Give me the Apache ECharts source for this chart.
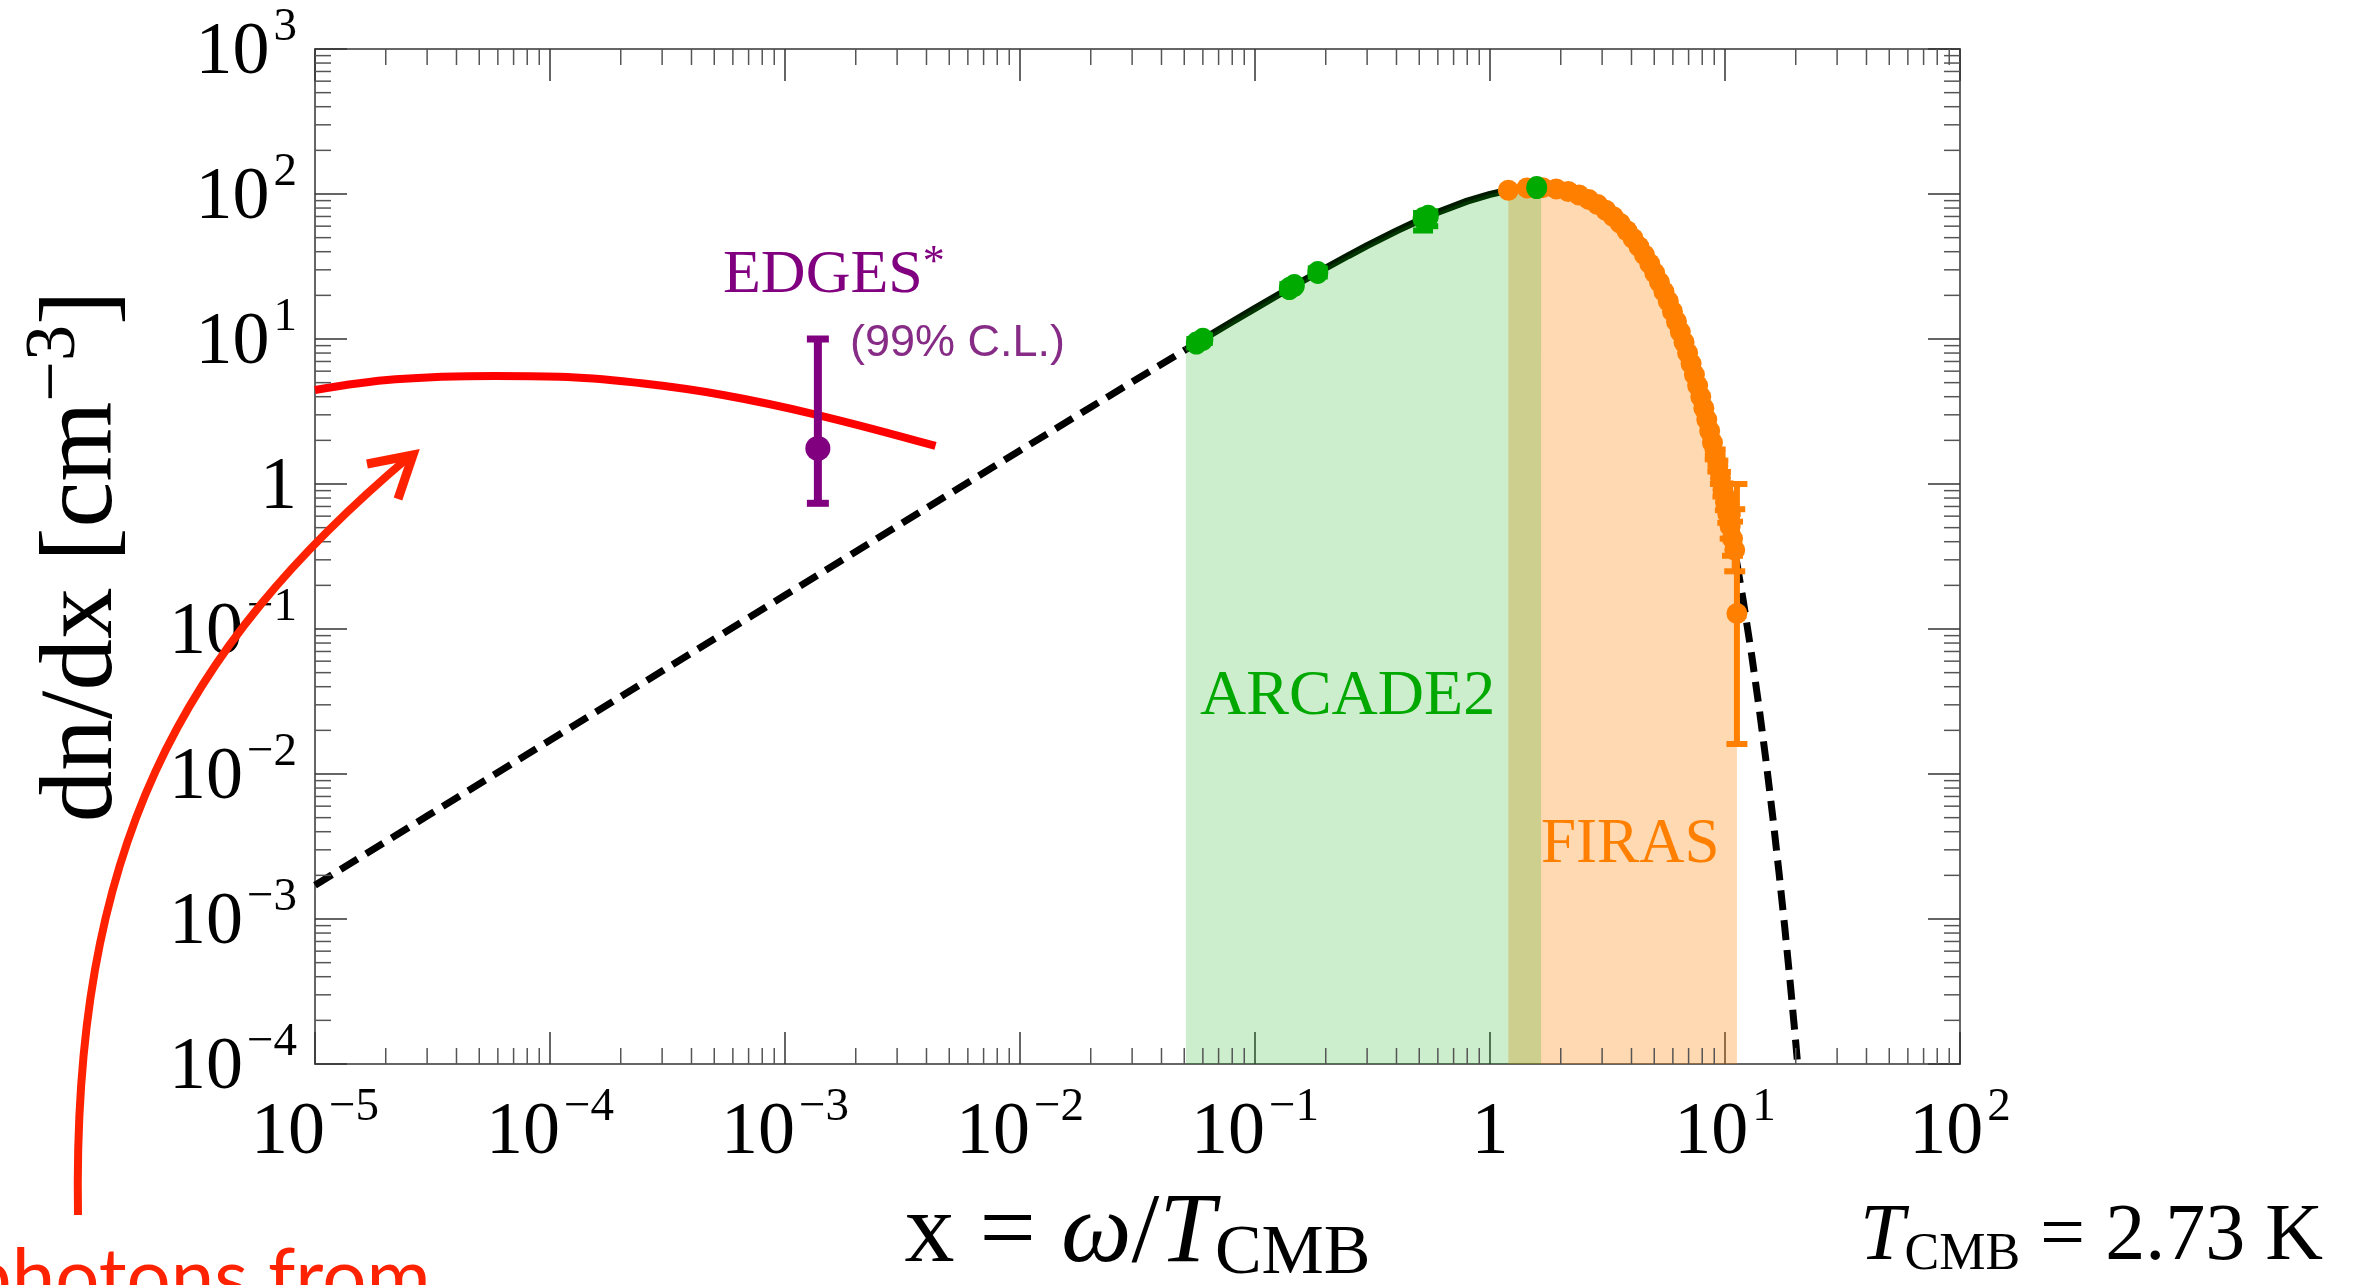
<!DOCTYPE html>
<html><head><meta charset="utf-8">
<script src="https://cdn.jsdelivr.net/npm/echarts@6/dist/echarts.min.js"></script>
<style>html,body{margin:0;padding:0;background:#fff;overflow:hidden}#c{width:2353px;height:1285px}</style>
</head><body><div id="c"></div>
<script>
// ---------- data ----------
const xTickDecades = [-5, -4, -3, -2, -1, 0, 1, 2];
const yTickDecades = [-4, -3, -2, -1, 0, 1, 2, 3];

// blackbody curve, solid part (x, dn/dx)
const curveX = [0.0508, 0.06, 0.08, 0.1, 0.13, 0.16, 0.2, 0.25, 0.3, 0.4, 0.5, 0.6, 0.8, 1.0, 1.197, 1.4, 1.6, 1.65, 1.8, 2.0, 2.3, 2.6, 3.0, 3.5, 4.0, 4.5, 5.0, 5.5, 6.0, 6.5, 7.0, 7.5, 8.0, 8.5, 9.0, 9.5, 10.0, 10.5, 11.0, 11.24];
const curveY = [8.47, 9.96, 13.14, 16.26, 20.82, 25.23, 30.89, 37.63, 43.99, 55.63, 65.90, 74.88, 89.30, 99.52, 106.1, 109.7, 110.74, 110.66, 109.72, 107.06, 100.8, 92.75, 80.64, 65.23, 51.05, 38.90, 29.00, 21.23, 15.30, 10.88, 7.648, 5.323, 3.673, 2.514, 1.710, 1.155, 0.7764, 0.5191, 0.3456, 0.2838];
// dashed extrapolations
const dashLeftX = [1e-5, 3e-5, 1e-4, 3e-4, 1e-3, 3e-3, 0.01, 0.02, 0.03, 0.0508];
const dashLeftY = [0.00171, 0.00513, 0.0171, 0.0513, 0.1709, 0.5122, 1.702, 3.386, 5.054, 8.47];
const dashRightX = [11.24, 12, 13, 14, 15, 16, 17, 18, 19, 20, 21];
const dashRightY = [0.2838, 0.1513, 0.0653, 0.02787, 0.01177, 0.004926, 0.002046, 0.000844, 0.000346, 0.000141, 0.0000572];
// red curve
const redX = [1e-5, 2.2e-5, 5.8e-5, 1.1e-4, 2.45e-4, 5.45e-4, 1.38e-3, 4.37e-3];
const redY = [4.45, 5.27, 5.56, 5.50, 4.95, 4.11, 2.99, 1.83];
// ARCADE2 points
const arcadeX = [0.0563, 0.0600, 0.140, 0.147, 0.185, 0.519, 0.546, 1.58];
const arcadeY = [9.37, 9.96, 22.3, 23.4, 28.8, 67.7, 70.2, 110.7];
const arcadeErrX = [0.0563, 0.0600, 0.140, 0.185, 0.519, 0.546];
const arcadeErrLo = [8.8, 9.4, 20.8, 27.0, 56.0, 60.0];
const arcadeErrHi = [10.0, 10.6, 23.9, 30.7, 74.0, 76.0];
// FIRAS points
const firasX = [1.197, 1.436, 1.675, 1.914, 2.153, 2.392, 2.631, 2.870, 3.109, 3.348, 3.587, 3.826, 4.065, 4.304, 4.543, 4.782, 5.021, 5.260, 5.499, 5.738, 5.977, 6.216, 6.455, 6.694, 6.933, 7.172, 7.411, 7.650, 7.889, 8.128, 8.367, 8.606, 8.845, 9.084, 9.323, 9.562, 9.801, 10.04, 10.28, 10.52, 10.76, 11.00, 11.24];
const firasY = [106.1, 110.1, 110.6, 108.4, 104.1, 98.4, 91.8, 84.6, 77.2, 69.8, 62.7, 55.8, 49.3, 43.4, 38.0, 33.1, 28.6, 24.7, 21.2, 18.2, 15.5, 13.2, 11.2, 9.50, 8.02, 6.76, 5.68, 4.77, 3.99, 3.33, 2.78, 2.32, 1.93, 1.60, 1.33, 1.10, 0.91, 0.75, 0.62, 0.51, 0.42, 0.35, 0.128];
const firasErrX = [9.084, 9.323, 9.562, 9.801, 10.04, 10.28, 10.52, 10.76, 11.00, 11.24];
const firasErrLo = [1.48, 1.22, 1.0, 0.82, 0.66, 0.54, 0.42, 0.32, 0.25, 0.0161];
const firasErrHi = [1.73, 1.45, 1.21, 1.01, 0.85, 0.71, 0.62, 0.55, 0.67, 1.0];
// EDGES
const edgesX = [1.38e-3];
const edgesY = [1.76];
const edgesLo = [0.736];
const edgesHi = [10];
// shaded ranges
const arcadeRange = [0.0508, 1.65];
const firasRange = [1.197, 11.24];

// ---------- build ----------
const zip = (a, b) => a.map((v, i) => [v, b[i]]);
const zip3 = (a, b, c) => a.map((v, i) => [v, b[i], c[i]]);
const bandData = r => curveX.map((x, i) => [x, curveY[i]]).filter(p => p[0] >= r[0] - 1e-9 && p[0] <= r[1] + 1e-9);
const minorX = [], minorY = [];
xTickDecades.slice(0, -1).forEach(k => { for (let m = 2; m <= 9; m++) minorX.push([m * Math.pow(10, k), 1]); });
yTickDecades.slice(0, -1).forEach(k => { for (let m = 2; m <= 9; m++) minorY.push([1, m * Math.pow(10, k)]); });

const SERIF = 'Liberation Serif';
const tickRich = {
  b: { fontFamily: SERIF, fontSize: 74, lineHeight: 100, color: '#000' },
  s: { fontFamily: SERIF, fontSize: 47, lineHeight: 44, verticalAlign: 'top', color: '#000', padding: [0, 0, 0, 4] }
};
function powLabel(v) {
  const e = Math.round(Math.log10(v));
  if (e === 0) return '{b|1}';
  return '{b|10}{s|' + (e < 0 ? '\u2212' + (-e) : e) + '}';
}

function errItem(color, lw, capW, capLw) {
  return function (params, api) {
    const x = api.value(0), lo = api.value(1), hi = api.value(2);
    const p1 = api.coord([x, lo]), p2 = api.coord([x, hi]);
    const st = { stroke: color, lineWidth: lw };
    const cs = { stroke: color, lineWidth: capLw };
    return { type: 'group', children: [
      { type: 'line', shape: { x1: p1[0], y1: p1[1], x2: p2[0], y2: p2[1] }, style: st },
      { type: 'line', shape: { x1: p1[0] - capW / 2, y1: p1[1], x2: p1[0] + capW / 2, y2: p1[1] }, style: cs },
      { type: 'line', shape: { x1: p2[0] - capW / 2, y1: p2[1], x2: p2[0] + capW / 2, y2: p2[1] }, style: cs }
    ]};
  };
}
const MINOR_LEN = 16;
function minorXItem(params, api) {
  const c = params.coordSys;
  const x = api.coord([api.value(0), 1])[0];
  const st = { stroke: '#555', lineWidth: 1.5 };
  return { type: 'group', children: [
    { type: 'line', shape: { x1: x, y1: c.y + c.height, x2: x, y2: c.y + c.height - MINOR_LEN }, style: st },
    { type: 'line', shape: { x1: x, y1: c.y, x2: x, y2: c.y + MINOR_LEN }, style: st }
  ]};
}
function minorYItem(params, api) {
  const c = params.coordSys;
  const y = api.coord([1, api.value(1)])[1];
  const st = { stroke: '#555', lineWidth: 1.5 };
  return { type: 'group', children: [
    { type: 'line', shape: { x1: c.x, y1: y, x2: c.x + MINOR_LEN, y2: y }, style: st },
    { type: 'line', shape: { x1: c.x + c.width, y1: y, x2: c.x + c.width - MINOR_LEN, y2: y }, style: st }
  ]};
}

const axisLine = { show: true, onZero: false, lineStyle: { color: '#666', width: 2 } };
const majorTick = { show: true, inside: true, length: 32, lineStyle: { color: '#333', width: 1.5 } };

const chart = echarts.init(document.getElementById('c'), null, { renderer: 'canvas' });
chart.setOption({
  animation: false,
  backgroundColor: '#fff',
  grid: { left: 315, right: 393, top: 49, bottom: 221, containLabel: false, outerBoundsMode: 'none' },
  xAxis: [
    { type: 'log', min: 1e-5, max: 100, position: 'bottom', axisLine, axisTick: majorTick, splitLine: { show: false },
      axisLabel: { interval: 0, showMinLabel: true, showMaxLabel: true, margin: 20, formatter: powLabel, rich: tickRich },
      name: '{b|x = }{i|\u03C9}{b|/}{i|T}{s|CMB}', nameLocation: 'middle', nameGap: 116,
      nameTextStyle: { rich: {
        b: { fontFamily: SERIF, fontSize: 100, lineHeight: 110, color: '#000' },
        i: { fontFamily: SERIF, fontStyle: 'italic', fontSize: 100, lineHeight: 110, color: '#000' },
        s: { fontFamily: SERIF, fontSize: 70, lineHeight: 62, verticalAlign: 'bottom', color: '#000' }
      } } },
    { type: 'log', min: 1e-5, max: 100, position: 'top', axisLine, axisTick: majorTick, axisLabel: { show: false }, splitLine: { show: false } }
  ],
  yAxis: [
    { type: 'log', min: 1e-4, max: 1000, position: 'left', axisLine, axisTick: majorTick, splitLine: { show: false },
      axisLabel: { interval: 0, showMinLabel: true, showMaxLabel: true, margin: 18, padding: [10, 0, 0, 0], formatter: powLabel, rich: tickRich },
      name: '{b|dn/dx [cm}{s|\u22123}{b|]}', nameLocation: 'middle', nameGap: 166, nameRotate: 90,
      nameTextStyle: { rich: {
        b: { fontFamily: SERIF, fontSize: 103, lineHeight: 130, color: '#000' },
        s: { fontFamily: SERIF, fontSize: 72, lineHeight: 72, verticalAlign: 'top', color: '#000' }
      } } },
    { type: 'log', min: 1e-4, max: 1000, position: 'right', axisLine, axisTick: majorTick, axisLabel: { show: false }, splitLine: { show: false } }
  ],
  series: [
    { name: 'Blackbody', type: 'line', data: zip(curveX, curveY), showSymbol: false, symbol: 'none', z: 2,
      lineStyle: { color: '#001a00', width: 7 } },
    { name: 'FIRAS band', type: 'line', data: bandData(firasRange), symbol: 'none', z: 3,
      lineStyle: { width: 0, opacity: 0 }, areaStyle: { origin: 'start', opacity: 1, color: 'rgba(255,128,0,0.3)' } },
    { name: 'ARCADE2 band', type: 'line', data: bandData(arcadeRange), symbol: 'none', z: 4,
      lineStyle: { width: 0, opacity: 0 }, areaStyle: { origin: 'start', opacity: 1, color: 'rgba(0,170,0,0.2)' } },
    { name: 'Blackbody low', type: 'line', data: zip(dashLeftX, dashLeftY), symbol: 'none', z: 5,
      lineStyle: { color: '#000', width: 7, type: [20, 10] } },
    { name: 'Blackbody high', type: 'line', data: zip(dashRightX, dashRightY), symbol: 'none', z: 5,
      lineStyle: { color: '#000', width: 7, type: [20, 10] } },
    { name: 'Dark photons', type: 'line', data: zip(redX, redY), symbol: 'none', smooth: 0.4, z: 6,
      lineStyle: { color: '#ff0000', width: 8 } },
    { name: 'EDGES err', type: 'custom', renderItem: errItem('#800080', 8, 22, 7), z: 7,
      dimensions: ['x', 'lo', 'hi'], encode: { x: 0, y: [1, 2] }, data: zip3(edgesX, edgesLo, edgesHi) },
    { name: 'FIRAS err', type: 'custom', renderItem: errItem('#ff8000', 6, 21, 6), z: 7,
      dimensions: ['x', 'lo', 'hi'], encode: { x: 0, y: [1, 2] }, data: zip3(firasErrX, firasErrLo, firasErrHi) },
    { name: 'ARCADE2 err', type: 'custom', renderItem: errItem('#00aa00', 6, 20, 6), z: 9,
      dimensions: ['x', 'lo', 'hi'], encode: { x: 0, y: [1, 2] }, data: zip3(arcadeErrX, arcadeErrLo, arcadeErrHi) },
    { name: 'FIRAS', type: 'scatter', data: zip(firasX, firasY), symbol: 'circle', symbolSize: 21, z: 8,
      itemStyle: { color: '#ff8000', opacity: 1 } },
    { name: 'ARCADE2', type: 'scatter', data: zip(arcadeX, arcadeY), symbol: 'circle', symbolSize: [21, 23], z: 9,
      itemStyle: { color: '#00aa00', opacity: 1 } },
    { name: 'EDGES', type: 'scatter', data: zip(edgesX, edgesY), symbol: 'circle', symbolSize: 25, z: 9,
      itemStyle: { color: '#800080', opacity: 1 } },
    { name: 'minor x', type: 'custom', renderItem: minorXItem, data: minorX, z: 10, silent: true, clip: false },
    { name: 'minor y', type: 'custom', renderItem: minorYItem, data: minorY, z: 10, silent: true, clip: false }
  ],
  graphic: [
    { type: 'text', z: 20, style: { x: 723, y: 297 - 21, text: '{a|EDGES}{s|*}', verticalAlign: 'middle', rich: {
        a: { fontFamily: SERIF, fontSize: 62, lineHeight: 70, fill: '#800080' },
        s: { fontFamily: SERIF, fontSize: 44, lineHeight: 40, verticalAlign: 'top', fill: '#800080' } } } },
    { type: 'text', z: 20, style: { x: 850, y: 344, text: '(99% C.L.)', font: '45px "Liberation Sans"', fill: '#862b86', verticalAlign: 'middle' } },
    { type: 'text', z: 20, style: { x: 1200, y: 718 - 21, text: 'ARCADE2', font: '64px "Liberation Serif"', fill: '#00a800', verticalAlign: 'middle' } },
    { type: 'text', z: 20, style: { x: 1541, y: 866 - 21, text: 'FIRAS', font: '63px "Liberation Serif"', fill: '#ff8000', verticalAlign: 'middle' } },
    { type: 'text', z: 20, style: { x: 1860, y: 1265 - 27, text: '{i|T}{s|CMB}{n| = 2.73 K}', verticalAlign: 'middle', rich: {
        i: { fontFamily: SERIF, fontStyle: 'italic', fontSize: 80, lineHeight: 86, fill: '#000' },
        s: { fontFamily: SERIF, fontSize: 52, lineHeight: 50, verticalAlign: 'bottom', fill: '#000' },
        n: { fontFamily: SERIF, fontSize: 80, lineHeight: 86, fill: '#000' } } } },
    { type: 'text', z: 20, style: { x: -32, y: 1240, text: 'photons from', font: '78px Lato', fill: '#ff2200', verticalAlign: 'top' } },
    { type: 'bezierCurve', z: 20, shape: { x1: 78, y1: 1215, cpx1: 72, cpy1: 850, cpx2: 180, cpy2: 650, x2: 410, y2: 456 },
      style: { stroke: '#ff2200', lineWidth: 8, fill: null } },
    { type: 'polyline', z: 20, shape: { points: [[367, 464], [413, 455], [398, 499]] },
      style: { stroke: '#ff2200', lineWidth: 9, fill: null, lineJoin: 'miter' } }
  ]
});
</script></body></html>
